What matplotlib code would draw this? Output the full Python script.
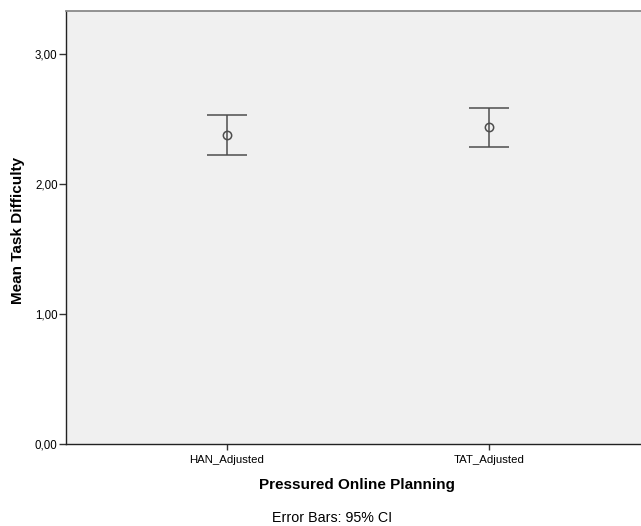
import matplotlib
matplotlib.use("Agg")
import matplotlib.pyplot as plt

categories = ["HAN_Adjusted", "TAT_Adjusted"]
means = [2.38, 2.44]
ci_lower = [2.225, 2.287]
ci_upper = [2.531, 2.590]
y_ticks = [0.0, 1.0, 2.0, 3.0]
y_tick_labels = ["0,00", "1,00", "2,00", "3,00"]

plt.rcParams["font.family"] = ["Liberation Sans", "DejaVu Sans"]

W, H = 641, 526
fig = plt.figure(figsize=(W / 100, H / 100), dpi=100)
ax = fig.add_axes([66 / W, (H - 444) / H, 1 - 66 / W, (444 - 10.5) / H])
ax.set_facecolor("#f0f0f0")

x = list(range(len(categories)))
err_low = [m - lo for m, lo in zip(means, ci_lower)]
err_high = [hi - m for m, hi in zip(means, ci_upper)]
ax.errorbar(x, means, yerr=[err_low, err_high], fmt="o", color="#4d4d4d",
            ecolor="#4d4d4d", elinewidth=1.1, capsize=14.5, capthick=1.1,
            markersize=6, markerfacecolor="none", markeredgewidth=1.1)

ax.set_xlim(-161 / 262, 1 + (W - 489) / 262)
ax.set_ylim(0, 3.337)
ax.set_xticks(x)
ax.set_xticklabels(categories, fontsize=8.2)
ax.set_yticks(y_ticks)
ax.set_yticklabels(y_tick_labels, fontsize=8.3)
ax.tick_params(axis="y", direction="out", length=5, width=1, color="#333333", pad=1)
ax.tick_params(axis="x", direction="out", length=4, width=1, color="#333333", pad=4)

for side in ("left", "bottom"):
    ax.spines[side].set_color("#222222")
    ax.spines[side].set_linewidth(1.0)
ax.spines["top"].set_color("#8a8a8a")
ax.spines["top"].set_linewidth(1.3)
ax.spines["right"].set_visible(False)

# axis titles and footnote placed in figure pixel coordinates
fig.text(18 / W, 1 - 230 / H, "Mean Task Difficulty", fontsize=11, fontweight="bold",
         rotation=90, ha="center", va="center")
fig.text(357 / W, 1 - 485 / H, "Pressured Online Planning", fontsize=11,
         fontweight="bold", ha="center", va="center")
fig.text(332 / W, 1 - 518 / H, "Error Bars: 95% CI", fontsize=10.3,
         ha="center", va="center")

fig.savefig("out.png", dpi=100)
